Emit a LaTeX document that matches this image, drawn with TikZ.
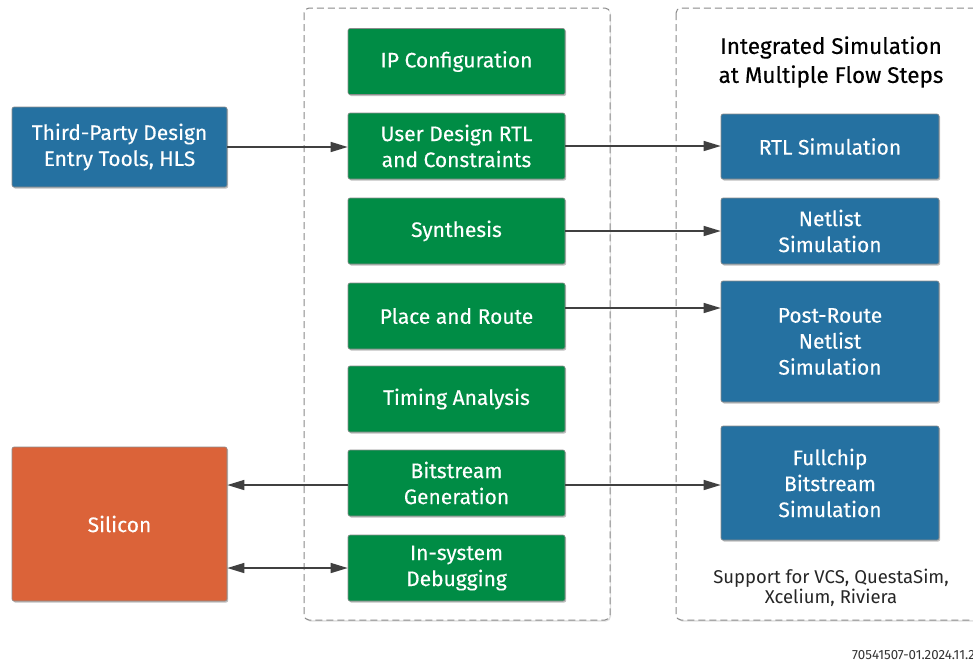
\documentclass[tikz,border=0pt]{standalone}
\usepackage{fontspec}
\setmainfont{Fira Sans}
\newfontfamily\boxfont{Fira Sans}[FakeBold=0.25]
\usetikzlibrary{arrows.meta,shadows}
\definecolor{boxblue}{HTML}{2571A1}
\definecolor{boxgreen}{HTML}{008C45}
\definecolor{boxorange}{HTML}{DB6339}
\definecolor{linegray}{HTML}{404040}
\definecolor{dashgray}{HTML}{8A8A8A}
\tikzset{
  basebox/.style={rectangle, rounded corners=2pt, draw=black!45, line width=0.6pt,
    text=white, align=center, font=\boxfont\fontsize{21}{26}\selectfont,
    drop shadow={shadow xshift=1.2pt, shadow yshift=-1.5pt, opacity=0.25, fill=black}},
  greenbox/.style={basebox, fill=boxgreen, minimum width=217pt, minimum height=66pt},
  bluebox/.style={basebox, fill=boxblue, minimum width=218pt},
  orangebox/.style={basebox, fill=boxorange, minimum width=215pt},
  groupbox/.style={draw=dashgray, line width=1pt, dash pattern=on 7pt off 4pt, rounded corners=5pt, fill=white,
    drop shadow={shadow xshift=1pt, shadow yshift=-1.5pt, opacity=0.12, fill=black}},
  conn/.style={draw=linegray, line width=1.4pt, -{Triangle[length=17pt,width=10pt]}},
  conn2/.style={draw=linegray, line width=1.4pt, {Triangle[length=17pt,width=10pt]}-{Triangle[length=17pt,width=10pt]}},
}
\begin{document}
\begin{tikzpicture}[x=1pt,y=-1pt]
\useasboundingbox (0,0) rectangle (973,662);
\fill[white] (0,0) rectangle (973,662);
% group boxes
\path[groupbox] (304,8) rectangle (610,620);
\path[groupbox] (676,8) rectangle (995,620);
% left boxes
\node[bluebox, minimum width=215pt, minimum height=80pt] (third) at (119.5,147) {Third-Party Design\\Entry Tools, HLS};
\node[orangebox, minimum height=154pt] (silicon) at (119.5,524) {Silicon};
% green flow
\node[greenbox] (ip) at (456.5,61.5) {IP Configuration};
\node[greenbox] (user) at (456.5,146) {User Design RTL\\and Constraints};
\node[greenbox] (synth) at (456.5,231) {Synthesis};
\node[greenbox] (pnr) at (456.5,316) {Place and Route};
\node[greenbox] (timing) at (456.5,399) {Timing Analysis};
\node[greenbox] (bit) at (456.5,483) {Bitstream\\Generation};
\node[greenbox] (debug) at (456.5,568) {In-system\\Debugging};
% right simulation
\node[align=center, font=\boxfont\fontsize{22.5}{29}\selectfont, text=black] (title) at (831,62) {Integrated Simulation\\at Multiple Flow Steps};
\node[bluebox, minimum height=65pt] (rtl) at (830,146.5) {RTL Simulation};
\node[bluebox, minimum height=66pt] (netlist) at (830,231) {Netlist\\Simulation};
\node[bluebox, minimum height=121pt] (post) at (830,341.5) {Post-Route\\Netlist\\Simulation};
\node[bluebox, minimum height=114pt] (full) at (830,483) {Fullchip\\Bitstream\\Simulation};
\node[align=center, font=\fontsize{18.5}{20}\selectfont, text=black!85] (support) at (831,588) {Support for VCS, QuestaSim,\\Xcelium, Riviera};
\node[anchor=west, inner sep=0pt, font=\fontsize{13.3}{15}\selectfont, text=black!80] (foot) at (852,655) {70541507-01.2024.11.2};
% connectors
\draw[conn] (third.east) -- (third.east -| user.west);
\draw[conn] (user.east) -- (user.east -| rtl.west);
\draw[conn] (synth.east) -- (synth.east -| netlist.west);
\draw[conn] ([yshift=8pt]pnr.east) -- ([yshift=8pt]pnr.east -| post.west);
\draw[conn] ([yshift=-2pt]bit.west) -- ([yshift=-2pt]bit.west -| silicon.east);
\draw[conn] ([yshift=-2pt]bit.east) -- ([yshift=-2pt]bit.east -| full.west);
\draw[conn2] (debug.west -| silicon.east) -- (debug.west);
\end{tikzpicture}
\end{document}
